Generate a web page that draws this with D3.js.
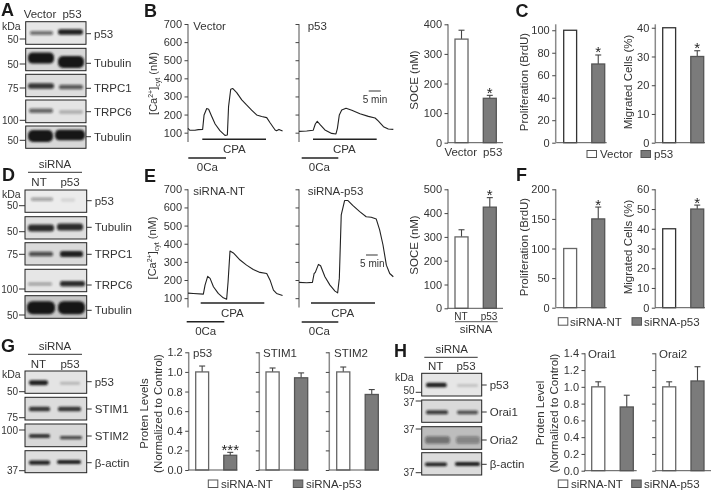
<!DOCTYPE html>
<html><head><meta charset="utf-8">
<script src="https://cdn.jsdelivr.net/npm/d3@7/dist/d3.min.js"></script>
<style>html,body{margin:0;padding:0;background:#fff}svg{display:block;filter:blur(0.35px)}text{font-family:"Liberation Sans",Arial,sans-serif;fill:#333}</style>
</head><body><svg id="c" width="712" height="491"></svg>
<script>
// ---------- DATA ----------
const traceTimeVector=[0,.8,2.9,4.3,6.1,6.7,7.8,8.6,9.9,11.3,13.3,15.4,16.4,16.9,17.8,18.6,20.3,22.4,24.4,26.5,28.6,30.7,32.8,34.2,36.3,36.9,37.9,39.4];
const traceCaVector=[124,113,113,117,118,198,233,229,189,148,111,85,87,244,340,344,321,281,253,225,198,189,183,155,115,111,118,109];
const traceTimeP53=[0,3.2,5.9,6.8,7.6,8.8,10.8,13.6,15.4,16,16.8,17.8,19.6,22,25.4,28.9,31.7,33,35.2,37.2,39.3];
const traceCaP53=[107,109,113,148,163,144,115,96,93,124,198,225,235,224,205,190,181,165,133,120,118];
const traceTimeNT=[0,2.2,6.4,7.1,8.2,9.2,10.6,12.6,14.7,16.1,16.7,17.5,18.9,21.7,24.4,27.2,30,32.8,34.2,35.6,36.9,39.4];
const traceCaNT=[128,126,122,172,220,209,163,126,102,94,190,360,349,310,282,258,242,236,199,144,126,115];
const traceTimeSiP53=[0,3.2,5.6,6.3,6.8,8.1,9,10.8,12.9,15,16.1,16.8,17.6,19,20.4,22.5,25.3,28,30.1,32.2,33.6,35,36.4,37.8,39.3];
const traceCaSiP53=[187,185,187,236,242,286,279,218,172,139,129,209,559,638,638,610,577,549,546,536,476,393,282,236,218];

const caTicks=[100,200,300,400,500,600,700];
const catsB=["Vector","p53"], catsE=["NT","p53"];
const soceB=[350,150], soceBErr=[30,10], soceE=[300,425], soceEErr=[30,40];
const prolifC=[100,70], prolifCErr=[0,8], migrC=[40,30], migrCErr=[0,2];
const prolifF=[100,150], prolifFErr=[0,20], migrF=[40,50], migrFErr=[0,2];
const levelG1=[1.0,.15], levelG1Err=[.06,.03], levelG2=[1.0,.94], levelG2Err=[.04,.05], levelG3=[1.0,.77], levelG3Err=[.05,.05];
const levelH1=[1.0,.76], levelH1Err=[.06,.14], levelH2=[1.0,1.07], levelH2Err=[.06,.17];

const blotALabels=["p53","Tubulin","TRPC1","TRPC6","Tubulin"];
const blotADensity=[[.55,.95],[1,1],[.85,.65],[.6,.22],[1,1]];
const blotAMW=["50","50","75","100","50"];
const blotDLabels=["p53","Tubulin","TRPC1","TRPC6","Tubulin"];
const blotDDensity=[[.35,.1],[.9,.9],[.7,.95],[.35,.9],[1,1]];
const blotDMW=["50","50","75","100","50"];
const blotGLabels=["p53","STIM1","STIM2","β-actin"];
const blotGDensity=[[.95,.2],[.85,.85],[.85,.75],[.95,.95]];
const blotGMW=["50","75","100","37"];
const blotHLabels=["p53","Orai1","Oria2","β-actin"];
const blotHDensity=[[.95,.15],[.8,.7],[.45,.35],[.95,.95]];
const blotHMW=["50","37","37","37"];

// ---------- HELPERS ----------
const svg=d3.select("#c");
const defs=svg.append("defs");
defs.append("filter").attr("id","soft").attr("x","-30%").attr("y","-80%").attr("width","160%").attr("height","260%")
  .append("feGaussianBlur").attr("stdDeviation",1.1);
const AX="#8a8a8a", DK="#2a2a2a", GR="#7b7b7b";
function T(x,y,s,o={}){
  const t=svg.append("text").attr("x",x).attr("y",y).attr("font-size",o.size||11.5).attr("text-anchor",o.a||"start").text(s);
  if(o.rot)t.attr("transform",`rotate(-90 ${x} ${y})`);
  if(o.w)t.attr("font-weight",o.w);
  if(o.fill)t.style("fill",o.fill);
  return t;
}
const letter=(x,y,s)=>T(x,y,s,{size:18,w:"bold",fill:"#1a1a1a"});
function line(x1,y1,x2,y2,c=DK,w=1){svg.append("line").attr("x1",x1).attr("y1",y1).attr("x2",x2).attr("y2",y2).attr("stroke",c).attr("stroke-width",w);}
function yAxis(x,y0,y1,domain,ticks,fmt,labels=true){
  const s=d3.scaleLinear().domain(domain).range([y0,y1]);
  const a=d3.axisLeft(s).tickValues(ticks).tickSize(3.5).tickPadding(2.5).tickFormat(labels?(fmt||(d=>d)):"");
  const g=svg.append("g").attr("transform",`translate(${x},0)`).call(a);
  g.select(".domain").attr("stroke",AX).attr("stroke-width",1.5).attr("d",`M0,${y0}V${y1}`);
  g.selectAll(".tick line").attr("stroke","#444");
  g.selectAll("text").attr("font-size",11).attr("font-family",null);
  return s;
}
function bars(cats,vals,errs,xa,xb,y,strokeW,stars,baseEnd,whiteStroke){
  const x=d3.scaleBand().domain(cats).range([xa,xb]).paddingInner(.54).paddingOuter(0);
  const b=x.bandwidth();
  cats.forEach((c,i)=>{
    const cx=x(c)+b/2, e=errs[i], v=vals[i];
    if(e>0){
      line(cx,y(v),cx,y(v+e),"#444",1.1);
      line(cx-3,y(v+e),cx+3,y(v+e),"#444",1.1);
    }
    svg.append("rect").attr("x",x(c)).attr("y",y(v)).attr("width",b).attr("height",y(0)-y(v))
      .attr("fill",i==0?"#fff":GR).attr("stroke",i==0?(whiteStroke||"#666"):"#555").attr("stroke-width",1.3);
    if(stars[i])T(cx,y(v+e)+2.5,stars[i],{a:"middle",size:15,fill:"#222"});
  });
  line(xa-7.5,y(0),baseEnd,y(0),"#555",1);
}
function trace(x0,y,ts,vs){
  const t=d3.scaleLinear().domain([0,5]).range([x0,x0+12]);
  const l=d3.line().x((d,i)=>t(ts[i])).y(d=>y(d));
  svg.append("path").attr("d",l(vs)).attr("fill","none").attr("stroke","#222").attr("stroke-width",1.1).attr("stroke-linejoin","round");
}
function yLabelCa(x,cy){
  const t=T(x,cy,"",{a:"middle",rot:true,size:11});
  t.append("tspan").text("[Ca");
  t.append("tspan").attr("font-size",7).attr("dy",-4).text("2+");
  t.append("tspan").attr("dy",4).text("]");
  t.append("tspan").attr("font-size",7).attr("dy",2.5).text("cyt");
  t.append("tspan").attr("dy",-2.5).text(" (nM)");
}
function blot(g,labels,dens,mw){
  labels.forEach((name,i)=>{
    const r=g.rows[i];
    const gg=svg.append("g");
    const id="clip"+g.id+i;
    defs.append("clipPath").attr("id",id).append("rect").attr("x",g.x0).attr("y",r.y0).attr("width",g.x1-g.x0).attr("height",r.y1-r.y0);
    gg.append("rect").attr("x",g.x0).attr("y",r.y0).attr("width",g.x1-g.x0).attr("height",r.y1-r.y0).attr("fill",r.bg);
    const inner=gg.append("g").attr("clip-path",`url(#${id})`).append("g").attr("filter","url(#soft)");
    r.bands.forEach((b,k)=>{
      inner.append("rect").attr("x",b[0]).attr("y",b[2]-b[3]/2).attr("width",b[1]-b[0]).attr("height",b[3])
        .attr("rx",b[3]/2.4).attr("fill","#141414").attr("opacity",dens[i][k]);
    });
    gg.append("rect").attr("x",g.x0).attr("y",r.y0).attr("width",g.x1-g.x0).attr("height",r.y1-r.y0).attr("fill","none").attr("stroke","#222").attr("stroke-width",1);
    line(g.x1,r.tick,g.x1+5,r.tick,"#333",1);
    T(g.x1+8,r.tick+4,name,{size:11.5});
    line(g.x0-6,r.mw,g.x0,r.mw,"#333",1);
    T(g.x0-7,r.mw+3.5+(r.mwDy||0),mw[i],{a:"end",size:10});
  });
}

// ---------- PANEL A ----------
letter(1,16,"A");
T(40,17.5,"Vector",{a:"middle"});T(72,17.5,"p53",{a:"middle"});T(2,29.5,"kDa",{size:10.5});
blot({id:"A",x0:25.7,x1:86,rows:[
 {y0:21.7,y1:44.3,bg:"#e6e6e6",tick:33.7,mw:39,bands:[[30,53,33,4,],[58,83,32,5.5]]},
 {y0:48.3,y1:70.7,bg:"#d8d8d8",tick:63.3,mw:64,bands:[[28,54,58,11],[58,84,62,12]]},
 {y0:74.3,y1:96.7,bg:"#dedede",tick:88.3,mw:88,bands:[[28,54,86,5.5],[59,83,87,4.5]]},
 {y0:100,y1:122.7,bg:"#e4e4e4",tick:111.7,mw:120.3,bands:[[29,53,110.7,4.5],[59,83,112,4]]},
 {y0:126,y1:148.3,bg:"#d8d8d8",tick:136.7,mw:140.3,bands:[[28,53,136,12],[55,85,135,10.5]]}
]},blotALabels,blotADensity,blotAMW);

// ---------- PANEL B ----------
letter(144,17,"B");
const yB=yAxis(188,142,24,[48.5,700],caTicks);
yAxis(299,142,24,[48.5,700],caTicks,null,false);
trace(188,yB,traceTimeVector,traceCaVector);
trace(299,yB,traceTimeP53,traceCaP53);
T(193.3,29.5,"Vector");T(307.7,29.5,"p53");
yLabelCa(157,83.5);
line(202.3,139.3,266,139.3,"#222",1.6);T(234.3,153,"CPA",{a:"middle"});
line(188.3,158,226,158,"#222",1.6);T(207.3,170.5,"0Ca",{a:"middle"});
line(313,139.3,376.7,139.3,"#222",1.6);T(344.3,153,"CPA",{a:"middle"});
line(301.7,158,338.3,158,"#222",1.6);T(319.3,170.5,"0Ca",{a:"middle"});
line(368.7,91,380.7,91,"#555",1.2);T(375,103,"5 min",{a:"middle",size:10});

const yS1=yAxis(448,142.7,24.3,[0,400],[0,100,200,300,400]);
bars(catsB,soceB,soceBErr,455,496.3,yS1,[],["","*"],503);
T(418,80,"SOCE (nM)",{a:"middle",rot:true});
T(460.7,155.5,"Vector",{a:"middle"});T(492.7,155.5,"p53",{a:"middle"});

// ---------- PANEL C ----------
letter(515.5,17,"C");
const yC1=yAxis(555.7,142.7,24.3,[0,105.3],[0,20,40,60,80,100]);
bars(catsB,prolifC,prolifCErr,563.7,604.7,yC1,[],["","*"],606.7,"#333");
T(528,82,"Proliferation (BrdU)",{a:"middle",rot:true});
const yC2=yAxis(655.3,142.7,24.3,[0,41.2],[0,10,20,30,40]);
bars(catsB,migrC,migrCErr,662.7,703.7,yC2,[],["","*"],705,"#333");
T(632,82,"Migrated Cells (%)",{a:"middle",rot:true});
svg.append("rect").attr("x",587).attr("y",150.5).attr("width",9.5).attr("height",7).attr("fill","#fff").attr("stroke","#555");
T(600,158,catsB[0]);
svg.append("rect").attr("x",641).attr("y",150.5).attr("width",9.5).attr("height",7).attr("fill",GR).attr("stroke","#555");
T(654,158,catsB[1]);

// ---------- PANEL D ----------
letter(2,181,"D");
T(55,168,"siRNA",{a:"middle"});line(28,172.3,82,172.3,"#333",1);
T(39,185.5,"NT",{a:"middle"});T(70,185.5,"p53",{a:"middle"});T(2,197.5,"kDa",{size:10.5});
blot({id:"D",x0:25,x1:86.7,rows:[
 {y0:190,y1:212.3,bg:"#ececec",tick:200.7,mw:205.7,bands:[[31,53,199.3,3.5],[61,75,200,3.5]]},
 {y0:216.7,y1:239,bg:"#dfdfdf",tick:227.3,mw:231.7,bands:[[28,54,228,7],[57,83,227,7]]},
 {y0:242.7,y1:265,bg:"#dadada",tick:254.3,mw:254.3,bands:[[29,53,254,4.5],[60,83,254,6]]},
 {y0:269.3,y1:291.7,bg:"#e6e6e6",tick:285,mw:289,bands:[[28,52,284,3],[60,85,283.7,5.5]]},
 {y0:295.7,y1:318.3,bg:"#c8c8c8",tick:310.3,mw:315,bands:[[27,55,307.7,13],[58,85,307.7,13]]}
]},blotDLabels,blotDDensity,blotDMW);

// ---------- PANEL E ----------
letter(144,182,"E");
const yE=yAxis(188,307.5,189.3,[48.5,700],caTicks);
yAxis(299,307.5,189.3,[48.5,700],caTicks,null,false);
trace(188,yE,traceTimeNT,traceCaNT);
trace(299,yE,traceTimeSiP53,traceCaSiP53);
T(193.3,194.5,"siRNA-NT");T(307.7,194.5,"siRNA-p53");
yLabelCa(156,248);
line(200.7,303,264.3,303,"#222",1.6);T(232.3,317,"CPA",{a:"middle"});
line(186.7,321.7,224.3,321.7,"#222",1.6);T(205.7,334.5,"0Ca",{a:"middle"});
line(311,303,375,303,"#222",1.6);T(342.7,317,"CPA",{a:"middle"});
line(301.7,322,338.3,322,"#222",1.6);T(319.3,334.5,"0Ca",{a:"middle"});
line(366,255,377.7,255,"#555",1.2);T(372.3,267,"5 min",{a:"middle",size:10});

const yS2=yAxis(448,308.3,189.3,[0,500],[0,100,200,300,400,500]);
bars(catsE,soceE,soceEErr,455,496.3,yS2,[],["","*"],503);
T(418,245,"SOCE (nM)",{a:"middle",rot:true});
T(461,320,"NT",{a:"middle",size:10});T(489,320,"p53",{a:"middle",size:10});
line(455,321.7,497.7,321.7,"#777",1.2);T(476,333,"siRNA",{a:"middle"});

// ---------- PANEL F ----------
letter(516,181,"F");
const yF1=yAxis(555.7,307.7,189.3,[0,200],[0,50,100,150,200]);
bars(catsE,prolifF,prolifFErr,563.7,604.7,yF1,[],["","*"],606.7);
T(528,247,"Proliferation (BrdU)",{a:"middle",rot:true});
const yF2=yAxis(655.3,307.7,189.3,[0,60],[0,10,20,30,40,50,60]);
bars(catsE,migrF,migrFErr,662.7,703.7,yF2,[],["","*"],705,"#333");
T(632,247,"Migrated Cells (%)",{a:"middle",rot:true});
function legendSi(x1,t1,x2,t2,yTop,yBase){
  svg.append("rect").attr("x",x1).attr("y",yTop).attr("width",9.5).attr("height",7.5).attr("fill","#fff").attr("stroke","#555");
  T(t1,yBase,"siRNA-NT");
  svg.append("rect").attr("x",x2).attr("y",yTop).attr("width",9.5).attr("height",7.5).attr("fill",GR).attr("stroke","#555");
  T(t2,yBase,"siRNA-p53");
}
legendSi(558.3,570,632,644,317.7,325.5);

// ---------- PANEL G ----------
letter(1,352,"G");
T(55,350,"siRNA",{a:"middle"});line(28,354.3,82,354.3,"#333",1);
T(38.3,368,"NT",{a:"middle"});T(70,368,"p53",{a:"middle"});T(2,378,"kDa",{size:10.5});
blot({id:"G",x0:25,x1:86.7,rows:[
 {y0:371,y1:393.3,bg:"#e4e4e4",tick:381.7,mw:391.7,bands:[[29,48,382.7,5],[60,80,383.3,3]]},
 {y0:397.3,y1:420,bg:"#dcdcdc",tick:409,mw:417.7,bands:[[29,50,409,4.5],[58,81,409,4.5]]},
 {y0:424,y1:446.7,bg:"#d8d8d8",tick:436,mw:430,bands:[[29,50,436,4],[60,82,437.7,3.2]]},
 {y0:450.7,y1:472.7,bg:"#dedede",tick:462.7,mw:470.7,bands:[[29,50,462.7,4.2],[57,81,462,4.2]]}
]},blotGLabels,blotGDensity,blotGMW);
const f1=d=>d3.format(".1f")(d);
const gTicks=[0,.2,.4,.6,.8,1,1.2];
const yG=yAxis(188.7,470,352.3,[0,1.2],gTicks,f1);
bars(catsE,levelG1,levelG1Err,195.7,236.7,yG,[],["","***"],237.3);
T(193,357,"p53");
const yG2=yAxis(259.3,470,352.3,[0,1.2],gTicks,f1,false);
bars(catsE,levelG2,levelG2Err,266,307.7,yG2,[],["",""],308.5);
T(263,357,"STIM1");
const yG3=yAxis(329.3,470,352.3,[0,1.2],gTicks,f1,false);
bars(catsE,levelG3,levelG3Err,336.7,378.3,yG3,[],["",""],379);
T(334,357,"STIM2");
T(148,413.5,"Proten Levels",{a:"middle",rot:true});
T(162,413.5,"(Normalized to Control)",{a:"middle",rot:true});
legendSi(208.3,221,293.3,306,480,488);

// ---------- PANEL H ----------
letter(394,357,"H");
T(451.7,352.5,"siRNA",{a:"middle"});line(424.3,357.3,477.7,357.3,"#333",1);
T(435.7,370,"NT",{a:"middle"});T(466,370,"p53",{a:"middle"});T(395,381,"kDa",{size:10.5});
blot({id:"H",x0:421.7,x1:481.7,rows:[
 {y0:373.3,y1:396,bg:"#e6e6e6",tick:385,mw:392.3,mwDy:-1.5,bands:[[426,446.7,385,4.5],[457,478,385.5,3]]},
 {y0:400,y1:422.3,bg:"#dadada",tick:412,mw:401,mwDy:1.5,bands:[[426,448,412.3,4],[457,478,412.3,3.8]]},
 {y0:426.7,y1:449.3,bg:"#bdbdbd",tick:440,mw:429,bands:[[425,450,440,7.5],[456,480,440,7.5]]},
 {y0:452.7,y1:475,bg:"#dcdcdc",tick:464.3,mw:472.7,bands:[[425,447,464.3,3.8],[455,480,464,4.2]]}
]},blotHLabels,blotHDensity,blotHMW);
const hTicks=[0,.2,.4,.6,.8,1,1.2,1.4];
const yH=yAxis(585,470.7,353.3,[0,1.4],hTicks,f1);
bars(catsE,levelH1,levelH1Err,591.7,633.3,yH,[],["",""],636.7);
T(588,358,"Orai1");
const yH2=yAxis(655.7,470.7,353.3,[0,1.4],hTicks,f1,false);
bars(catsE,levelH2,levelH2Err,662.7,704,yH2,[],["",""],711);
T(659,358,"Orai2");
T(544,413,"Proten Level",{a:"middle",rot:true});
T(558,413,"(Normalized to Control)",{a:"middle",rot:true});
legendSi(558.3,571,631.7,644,480,488);
</script></body></html>
